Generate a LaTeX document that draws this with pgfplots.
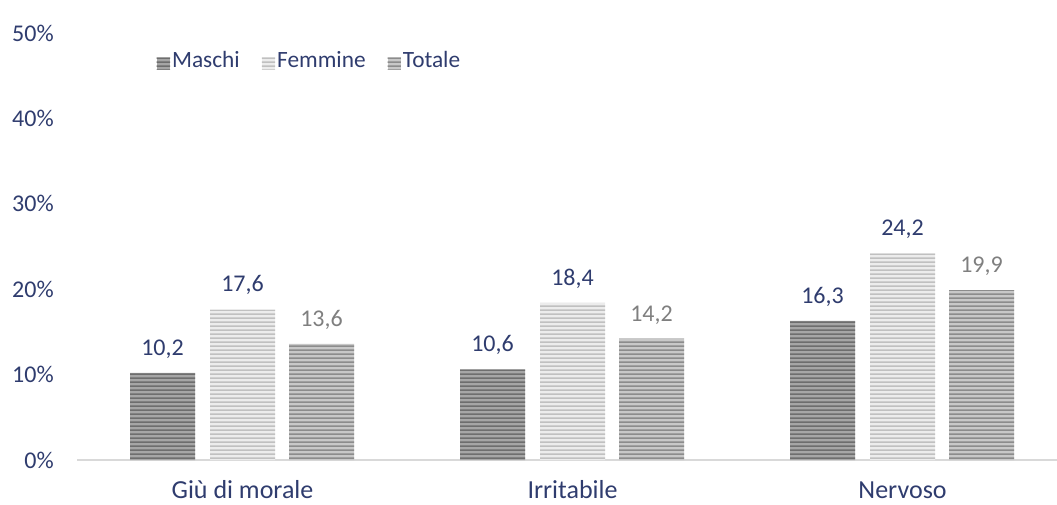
\documentclass[border=0pt]{standalone}
\usepackage{pgfplots}
\pgfplotsset{compat=1.18}
\usepackage{fontspec}
\setmainfont{Carlito}
\usetikzlibrary{patterns.meta}
\definecolor{txtblue}{RGB}{47,60,110}
\definecolor{txtgray}{RGB}{127,127,127}
\definecolor{axgray}{RGB}{217,217,217}
\definecolor{mA}{RGB}{166,166,166}\definecolor{mB}{RGB}{110,110,110}
\definecolor{fA}{RGB}{236,236,236}\definecolor{fB}{RGB}{192,192,192}
\definecolor{tA}{RGB}{200,200,200}\definecolor{tB}{RGB}{140,140,140}
\tikzdeclarepattern{name=hstripes, type=uncolored,
  bounding box={(0,0) and (1pt,2.6pt)}, tile size={(1pt,2.6pt)},
  code={\fill (0,0) rectangle (1pt,1.3pt);}}
\pgfplotstableread{
x m f t
0 10.2 17.6 13.6
1 10.6 18.4 14.2
2 16.3 24.2 19.9
}\datatab
\begin{document}
\begin{tikzpicture}[x=1pt,y=1pt]
\useasboundingbox (0,0) rectangle (792.75,378);
\begin{axis}[
  at={(57.75pt,33pt)}, anchor=south west,
  scale only axis, width=735pt, height=320.25pt,
  ymin=0, ymax=50, xmin=-0.5015, xmax=2.468,
  ybar, bar width=0.197,
  axis x line*=bottom, axis y line*=left,
  x axis line style={draw=axgray, line width=1pt, -},
  y axis line style={draw=none},
  ytick={0,10,...,50}, yticklabel={\pgfmathprintnumber{\tick}\%},
  xtick={0,1,2}, xticklabels={Giù di morale,Irritabile,Nervoso},
  major tick length=0pt,
  tick label style={font=\fontsize{18}{21}\selectfont, text=txtblue},
  yticklabel style={anchor=east, inner sep=0pt, xshift=-17.25pt},
  xticklabel style={anchor=base, inner sep=0pt, yshift=-29pt, font=\fontsize{19.5}{22}\selectfont},
  /pgf/number format/assume math mode=true,
  nodes near coords={\pgfmathprintnumber[fixed,fixed zerofill,precision=1,use comma]{\pgfplotspointmeta}},
  nodes near coords style={anchor=base, inner sep=0pt, yshift=13.3pt, font=\fontsize{18}{21}\selectfont},
  clip=false,
  legend columns=3,
  legend style={draw=none, fill=none, at={(0.077,0.928)}, anchor=west,
    font=\fontsize{17.5}{21}\selectfont, text=txtblue,
    nodes={text height=1.5ex, text depth=0.2ex, inner sep=1.5pt},
    /tikz/every even column/.append style={column sep=15pt}},
  legend image code/.code={\path[#1] (0pt,-4.6pt) rectangle (10pt,4.4pt);},
]
\addplot[bar shift=-0.2424, draw=none, fill=mA, postaction={pattern={hstripes}, pattern color=mB},
  every node near coord/.append style={text=txtblue}] table[x=x,y=m]{\datatab};
\addplot[bar shift=0, draw=none, fill=fA, postaction={pattern={hstripes}, pattern color=fB},
  every node near coord/.append style={text=txtblue}] table[x=x,y=f]{\datatab};
\addplot[bar shift=0.2394, draw=none, fill=tA, postaction={pattern={hstripes}, pattern color=tB},
  every node near coord/.append style={text=txtgray}] table[x=x,y=t]{\datatab};
\legend{Maschi,Femmine,Totale}
\end{axis}
\end{tikzpicture}
\end{document}
